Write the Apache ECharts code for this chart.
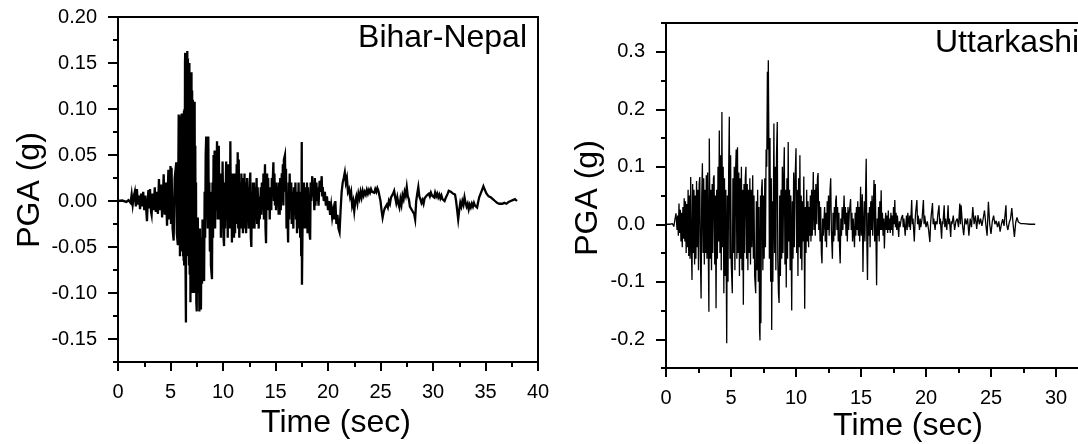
<!DOCTYPE html>
<html>
<head>
<meta charset="utf-8">
<script src="https://cdn.jsdelivr.net/npm/echarts@6/dist/echarts.min.js"></script>
<style>
html,body{margin:0;padding:0;background:#fff;}
#chart{width:1078px;height:444px;}
</style>
</head>
<body>
<div id="chart"></div>
<script>
// Panel titles
const panelTitles = ['Bihar-Nepal', 'Uttarkashi'];
const xTitle = 'Time (sec)';
const yTitle = 'PGA (g)';

// Tick labels
const leftYTicks = [-0.15, -0.10, -0.05, 0.00, 0.05, 0.10, 0.15, 0.20];
const rightYTicks = [-0.2, -0.1, 0.0, 0.1, 0.2, 0.3];

// Bihar-Nepal accelerogram [time (s), PGA (g)]
const biharNepal = [
[0,0],[0.4,0.0005],[0.8,-0.001],[1.0,0.001],[1.2,-0.002],
[1.3,0.007],[1.4,-0.004],[1.5,0.005],[1.6,0.010],[1.7,-0.006],[1.8,0.013],[1.9,-0.004],[2.0,0.006],[2.1,-0.009],[2.2,0.008],[2.3,-0.006],[2.4,0.010],[2.5,-0.010],[2.6,0.006],[2.7,-0.012],[2.76,-0.022],[2.85,0.004],[2.9,0.012],[3.0,-0.008],[3.05,0.013],[3.15,-0.012],[3.2,-0.015],[3.3,0.008],[3.4,-0.010],[3.5,0.015],[3.6,-0.012],[3.7,0.010],[3.8,-0.014],[3.9,0.024],[4.0,-0.010],[4.1,0.018],[4.2,-0.018],[4.3,0.012],[4.35,0.029],[4.45,-0.015],[4.55,0.020],[4.67,-0.027],[4.75,0.015],[4.8,0.034],[4.9,-0.020],[5.0,0.038],[5.05,-0.025],[5.1,0.036],[5.2,-0.030],[5.3,-0.043],[5.4,0.025],[5.55,0.042],[5.6,-0.035],[5.7,-0.048],
[5.75,0.040],[5.78,0.094],[5.8,-0.030],[5.83,0.090],[5.85,-0.040],[5.88,0.085],[5.9,-0.060],[5.93,0.092],[5.95,-0.045],[5.98,0.090],[6.0,-0.050],[6.03,0.094],[6.05,-0.055],[6.08,0.095],[6.1,-0.055],[6.13,0.092],[6.15,-0.050],[6.18,0.090],[6.2,-0.060],[6.23,0.095],[6.25,-0.065],[6.28,0.098],[6.3,-0.070],[6.33,0.100],[6.35,-0.060],[6.38,0.150],[6.4,0.161],[6.43,-0.070],[6.47,-0.132],[6.5,0.120],[6.53,-0.060],[6.56,0.140],[6.6,0.163],[6.63,-0.050],[6.66,0.155],[6.7,-0.060],[6.73,0.145],[6.76,-0.070],[6.8,0.150],[6.83,-0.080],[6.86,0.130],[6.9,-0.110],[6.93,0.120],[6.96,-0.090],[7.0,0.140],[7.03,-0.080],[7.06,0.120],[7.1,-0.100],[7.13,0.110],[7.16,-0.090],[7.2,0.105],[7.23,-0.100],[7.26,0.100],[7.3,0.108],[7.33,-0.100],[7.36,0.060],[7.4,-0.090],[7.43,0.020],[7.46,-0.110],[7.5,-0.120],[7.53,-0.030],[7.56,-0.100],[7.6,-0.018],
[7.65,-0.100],[7.7,-0.040],[7.75,-0.120],[7.8,-0.030],[7.85,-0.110],[7.9,-0.118],[7.95,-0.040],[8.0,-0.090],[8.05,-0.020],[8.1,-0.025],[8.15,-0.080],[8.2,-0.087],[8.25,0.010],[8.3,-0.040],[8.35,0.050],[8.4,0.070],[8.45,-0.020],[8.5,0.040],[8.55,-0.030],[8.6,0.070],[8.65,-0.020],[8.7,0.020],[8.75,-0.055],[8.8,0.010],[8.85,-0.070],[8.95,-0.085],[9.0,0.020],[9.05,-0.040],[9.1,0.050],[9.15,-0.020],[9.2,0.055],[9.25,-0.030],[9.3,0.040],[9.35,-0.010],[9.43,0.065],[9.5,-0.020],[9.55,0.050],[9.6,0.060],[9.65,-0.010],[9.7,-0.020],[9.75,0.030],[9.8,-0.040],[9.85,0.020],[9.9,-0.030],[9.96,0.043],[10.05,-0.040],[10.1,-0.049],[10.15,0.020],[10.2,-0.030],[10.3,0.043],[10.35,-0.020],[10.4,0.030],[10.45,-0.040],[10.5,0.040],[10.55,-0.010],[10.6,0.020],[10.65,-0.030],[10.7,0.065],[10.75,-0.020],[10.8,0.030],[10.85,-0.045],[10.9,0.020],[10.95,-0.030],[11.0,0.030],[11.05,-0.040],[11.1,0.025],[11.15,-0.035],[11.2,0.030],[11.25,-0.025],[11.3,0.040],[11.35,-0.020],[11.4,0.053],[11.45,-0.030],[11.5,0.045],[11.55,-0.040],[11.6,-0.042],[11.65,0.020],[11.7,-0.030],[11.75,0.030],[11.8,-0.020],[11.85,0.025],[11.9,-0.035],[11.95,0.020],[12.0,-0.030],[12.05,0.030],[12.1,-0.025],[12.15,0.020],[12.2,-0.035],[12.3,0.025],[12.35,-0.020],[12.4,0.015],[12.45,-0.030],[12.55,0.020],[12.6,0.031],[12.65,-0.040],[12.7,-0.050],[12.75,0.010],[12.8,-0.030],[12.85,0.020],[12.9,-0.020],[12.95,0.020],[13.0,-0.030],[13.1,0.015],[13.15,-0.010],[13.2,0.025],[13.25,-0.025],[13.3,0.015],[13.4,-0.030],[13.45,0.005],[13.5,-0.020],[13.6,0.015],[13.65,-0.015],[13.7,0.020],[13.8,-0.010],[13.85,0.030],[13.9,-0.020],[14.0,0.040],[14.05,-0.030],[14.1,-0.046],[14.15,0.020],[14.2,0.030],[14.25,-0.010],[14.3,0.025],[14.35,-0.010],[14.4,0.010],[14.45,-0.020],[14.5,0.015],[14.6,-0.010],[14.65,0.025],[14.7,0.010],[14.8,0.042],[14.85,0.000],[14.9,0.030],[14.95,-0.005],[15.0,0.020],[15.05,-0.010],[15.1,0.020],[15.2,-0.005],[15.25,0.010],[15.3,-0.015],[15.35,0.020],[15.4,-0.015],[15.45,0.025],[15.5,-0.010],[15.6,0.030],[15.65,0.000],[15.7,0.040],[15.75,-0.005],[15.8,0.045],[15.9,0.050],[15.95,0.010],[16.0,0.035],[16.05,-0.030],[16.1,0.010],[16.2,-0.045],[16.25,0.020],[16.3,-0.020],[16.35,0.030],[16.4,-0.010],[16.5,0.020],[16.55,-0.025],[16.6,0.010],[16.7,-0.030],[16.75,0.015],[16.8,-0.015],[16.9,0.020],[16.95,-0.020],[17.0,0.010],[17.05,-0.035],[17.1,0.010],[17.15,-0.010],[17.2,0.020],[17.25,-0.030],[17.3,0.005],[17.35,-0.040],[17.4,0.010],[17.45,-0.060],[17.5,0.064],[17.52,-0.091],[17.6,0.000],[17.65,-0.030],[17.7,0.020],[17.75,-0.020],[17.8,0.015],[17.85,-0.030],[17.9,0.010],[17.95,-0.025],[18.0,0.020],[18.05,-0.035],[18.1,0.015],[18.2,-0.030],[18.3,-0.042],[18.35,0.020],[18.4,0.000],[18.5,0.027],[18.55,0.005],[18.6,0.020],[18.7,-0.010],[18.75,0.025],[18.8,-0.005],[18.9,0.020],[18.95,0.000],[19.0,0.015],[19.1,-0.005],[19.2,0.022],[19.3,0.010],[19.4,0.027],[19.45,0.005],[19.5,0.015],[19.6,0.000],[19.7,0.010],[19.8,-0.005],[19.9,0.005],[20.0,-0.010],[20.1,0.000],[20.2,-0.015],[20.3,-0.005],[20.4,-0.018],[20.5,-0.010],[20.6,-0.020],[20.7,0.000],[20.8,-0.025],[20.9,-0.015],[21.0,-0.030],[21.1,-0.034],[21.2,-0.010],[21.3,0.010],[21.4,0.020],[21.5,0.025],[21.6,0.031],[21.7,0.020],[21.8,0.025],[21.9,0.010],[22.0,0.013],[22.1,0.005],[22.2,0.010],[22.3,-0.005],[22.4,0.000],[22.5,-0.011],[22.6,0.000],[22.7,0.005],[22.8,-0.002],[22.9,0.008],[23.0,0.003],[23.1,0.010],[23.2,0.004],[23.3,0.011],[23.4,0.006],[23.5,0.010],[23.6,0.007],[23.7,0.012],[23.8,0.008],[23.9,0.012],[24.0,0.009],[24.1,0.013],[24.2,0.010],[24.3,0.012],[24.4,0.009],[24.5,0.013],[24.6,0.010],[24.7,0.014],[24.8,0.011],[24.9,0.013],[25.0,0.000],[25.1,-0.010],[25.2,-0.018],[25.3,-0.012],[25.4,-0.008],[25.5,-0.010],[25.6,-0.004],[25.7,-0.007],[25.8,0.000],[25.9,-0.003],[26.0,0.004],[26.1,0.002],[26.2,0.008],[26.3,0.011],[26.4,0.004],[26.5,-0.002],[26.6,0.004],[26.7,-0.003],[26.8,-0.007],[26.9,0.002],[27.0,-0.004],[27.1,0.006],[27.2,0.002],[27.3,0.010],[27.4,0.006],[27.5,0.015],[27.6,0.005],[27.7,0.002],[27.8,-0.006],[27.9,-0.004],[28.0,-0.010],[28.1,-0.008],[28.2,-0.014],[28.3,-0.020],[28.4,0.000],[28.5,0.008],[28.6,0.015],[28.7,0.005],[28.8,0.002],[28.9,-0.002],[29.0,0.001],[29.1,-0.003],[29.2,0.003],[29.3,0.001],[29.4,0.006],[29.5,0.004],[29.6,0.008],[29.7,0.005],[29.8,0.009],[29.9,0.006],[30.0,0.008],[30.1,0.004],[30.2,0.009],[30.3,0.005],[30.4,0.008],[30.5,0.004],[30.6,0.007],[30.7,0.003],[30.8,0.006],[30.9,0.002],[31.0,0.004],[31.1,0.000],[31.2,0.003],[31.3,0.005],[31.4,0.008],[31.5,0.011],[31.6,0.013],[31.7,0.010],[31.8,0.012],[31.9,0.008],[32.0,0.009],[32.1,0.007],[32.2,0.000],[32.3,-0.010],[32.4,-0.020],[32.5,-0.010],[32.6,-0.002],[32.7,-0.006],[32.8,0.000],[32.9,-0.004],[33.0,0.004],[33.1,-0.002],[33.2,-0.006],[33.3,-0.003],[33.4,-0.009],[33.5,-0.004],[33.6,-0.007],[33.7,-0.003],[33.8,-0.006],[33.9,-0.002],[34.0,-0.005],[34.1,-0.003],[34.2,-0.007],[34.3,-0.001],[34.4,0.004],[34.5,0.006],[34.6,0.010],[34.7,0.013],[34.8,0.016],[34.9,0.013],[35.0,0.011],[35.1,0.008],[35.2,0.007],[35.3,0.005],[35.4,0.006],[35.5,0.004],[35.6,0.004],[35.7,0.002],[35.8,0.002],[35.9,0.000],[36.0,0.000],[36.1,-0.002],[36.2,-0.002],[36.3,-0.003],[36.4,-0.003],[36.6,-0.003],[36.8,-0.002],[37.0,-0.003],[37.2,-0.001],[37.4,0.000],[37.6,0.001],[37.8,0.002],[38.0,0.000]
];

// Uttarkashi accelerogram [time (s), PGA (g)]
const uttarkashi = [
[0,0],[0.3,0],[0.5,0.001],[0.6,-0.004],[0.7,0.010],[0.77,0.019],[0.85,-0.010],[0.9,0.015],[0.95,-0.020],[1.0,0.036],[1.05,-0.015],[1.1,0.025],[1.15,-0.030],[1.2,0.020],[1.25,-0.040],[1.3,0.030],[1.35,-0.025],[1.4,0.045],[1.45,-0.030],[1.5,0.040],[1.55,-0.050],[1.6,0.035],[1.65,-0.040],[1.7,0.060],[1.75,-0.055],[1.8,0.050],[1.85,-0.060],[1.9,0.082],[1.95,-0.040],[2.0,-0.097],[2.05,0.070],[2.1,-0.050],[2.15,0.060],[2.2,-0.070],[2.25,0.050],[2.3,-0.060],[2.35,0.075],[2.4,-0.040],[2.45,0.060],[2.5,-0.080],[2.55,0.070],[2.6,0.082],[2.65,-0.060],[2.7,-0.129],[2.75,0.050],[2.8,0.106],[2.85,-0.050],[2.9,0.080],[2.95,-0.070],[3.0,0.060],[3.05,-0.050],[3.1,0.085],[3.15,-0.060],[3.2,0.090],[3.25,-0.040],[3.3,-0.152],[3.33,0.149],[3.4,-0.060],[3.45,0.060],[3.5,-0.080],[3.55,0.070],[3.6,-0.050],[3.65,0.080],[3.7,0.085],[3.75,-0.070],[3.8,0.050],[3.85,-0.146],[3.9,0.060],[3.95,-0.060],[4.0,0.100],[4.05,-0.030],[4.1,0.163],[4.15,-0.050],[4.2,0.120],[4.25,-0.080],[4.3,0.195],[4.35,-0.040],[4.4,0.100],[4.45,-0.120],[4.5,0.080],[4.55,-0.090],[4.6,0.060],[4.67,-0.207],[4.72,0.050],[4.77,-0.100],[4.82,0.090],[4.87,0.187],[4.92,-0.060],[4.97,0.120],[5.02,-0.070],[5.1,-0.120],[5.15,0.080],[5.2,-0.050],[5.25,0.100],[5.3,-0.080],[5.35,0.090],[5.4,0.130],[5.45,-0.060],[5.5,0.134],[5.55,-0.050],[5.6,0.090],[5.65,-0.090],[5.7,0.080],[5.75,-0.060],[5.8,0.100],[5.85,-0.080],[5.9,0.060],[5.95,-0.140],[6.0,0.070],[6.05,-0.050],[6.1,0.080],[6.15,0.100],[6.2,-0.060],[6.25,0.070],[6.3,-0.080],[6.35,0.060],[6.4,-0.050],[6.45,0.080],[6.5,-0.070],[6.55,0.060],[6.6,-0.040],[6.67,0.085],[6.72,-0.060],[6.77,0.050],[6.82,-0.090],[6.9,-0.120],[6.95,0.040],[7.0,-0.080],[7.05,0.060],[7.1,-0.100],[7.15,0.030],[7.2,-0.185],[7.23,-0.202],[7.27,0.050],[7.3,-0.172],[7.35,0.060],[7.4,0.078],[7.45,-0.080],[7.5,0.050],[7.55,-0.060],[7.6,0.080],[7.65,-0.040],[7.7,0.130],[7.75,0.100],[7.8,0.265],[7.83,0.130],[7.87,0.285],[7.92,0.120],[7.95,-0.060],[8.0,0.150],[8.05,-0.100],[8.1,0.080],[8.13,-0.184],[8.18,0.040],[8.22,-0.100],[8.3,0.175],[8.35,-0.050],[8.4,0.100],[8.45,-0.080],[8.5,0.120],[8.56,0.178],[8.6,-0.060],[8.65,-0.120],[8.7,-0.137],[8.75,0.050],[8.8,-0.090],[8.85,0.060],[8.9,-0.060],[8.95,0.100],[9.0,-0.050],[9.05,0.080],[9.1,0.134],[9.15,-0.070],[9.2,0.060],[9.25,-0.110],[9.3,0.080],[9.35,-0.060],[9.4,0.143],[9.45,-0.030],[9.5,0.060],[9.55,-0.080],[9.6,0.050],[9.67,-0.150],[9.72,0.040],[9.77,-0.060],[9.82,0.090],[9.87,-0.040],[9.92,0.070],[10.0,0.132],[10.05,-0.050],[10.1,0.060],[10.15,-0.090],[10.2,0.080],[10.25,-0.040],[10.3,0.120],[10.35,-0.060],[10.4,0.050],[10.45,-0.080],[10.5,0.040],[10.55,-0.030],[10.6,0.083],[10.67,-0.147],[10.72,0.030],[10.77,-0.050],[10.82,0.060],[10.87,-0.030],[10.92,0.040],[10.97,-0.040],[11.0,0.030],[11.05,-0.020],[11.1,0.050],[11.15,-0.030],[11.2,0.060],[11.25,-0.020],[11.33,0.091],[11.38,-0.010],[11.43,0.060],[11.48,-0.020],[11.53,0.070],[11.6,0.000],[11.65,0.080],[11.7,0.089],[11.75,-0.010],[11.8,0.040],[11.85,-0.030],[11.9,0.030],[11.95,-0.050],[12.0,-0.068],[12.05,0.010],[12.1,-0.020],[12.2,0.030],[12.25,-0.030],[12.3,0.020],[12.35,-0.040],[12.4,0.040],[12.45,-0.010],[12.5,0.050],[12.55,-0.020],[12.62,0.060],[12.67,0.080],[12.72,-0.010],[12.8,-0.060],[12.85,0.020],[12.9,-0.030],[12.95,0.030],[13.0,-0.020],[13.05,0.040],[13.1,0.050],[13.15,-0.010],[13.2,0.030],[13.25,-0.030],[13.3,0.020],[13.35,-0.040],[13.4,-0.068],[13.45,0.010],[13.5,-0.020],[13.55,0.030],[13.6,-0.010],[13.7,0.050],[13.75,0.000],[13.8,0.030],[13.85,-0.020],[13.9,0.020],[13.95,-0.030],[14.0,0.030],[14.05,-0.010],[14.1,0.020],[14.2,0.044],[14.25,-0.010],[14.3,0.020],[14.35,-0.030],[14.4,0.010],[14.5,-0.040],[14.55,0.020],[14.6,-0.020],[14.65,0.030],[14.7,-0.010],[14.75,0.040],[14.8,-0.020],[14.85,0.030],[14.9,-0.030],[14.97,0.065],[15.02,-0.020],[15.1,0.052],[15.15,-0.083],[15.2,0.000],[15.25,0.040],[15.3,-0.030],[15.35,0.050],[15.4,0.114],[15.45,-0.030],[15.5,-0.097],[15.55,0.020],[15.6,-0.020],[15.65,0.030],[15.7,-0.040],[15.75,0.040],[15.8,-0.010],[15.85,0.050],[15.9,-0.020],[16.0,0.077],[16.05,-0.030],[16.1,0.070],[16.15,-0.020],[16.2,-0.106],[16.25,0.010],[16.3,-0.020],[16.35,0.030],[16.4,-0.030],[16.45,0.040],[16.5,-0.010],[16.55,0.059],[16.6,-0.010],[16.65,0.020],[16.7,-0.020],[16.75,0.010],[16.8,-0.042],[16.85,0.000],[16.9,0.020],[16.95,-0.010],[17.0,0.015],[17.05,-0.015],[17.1,0.024],[17.15,-0.010],[17.2,0.010],[17.25,-0.015],[17.3,0.020],[17.35,-0.010],[17.4,0.015],[17.45,-0.020],[17.5,0.030],[17.55,0.000],[17.6,0.042],[17.65,-0.005],[17.7,0.020],[17.75,-0.010],[17.8,0.015],[17.9,-0.022],[17.95,0.005],[18.0,-0.005],[18.1,0.010],[18.2,0.016],[18.25,-0.005],[18.3,0.010],[18.4,-0.020],[18.45,0.000],[18.5,0.015],[18.55,-0.010],[18.6,0.020],[18.7,-0.005],[18.75,0.015],[18.8,-0.010],[18.9,0.042],[18.95,0.000],[19.0,0.010],[19.1,-0.030],[19.15,0.000],[19.2,0.020],[19.3,0.042],[19.35,0.000],[19.4,0.015],[19.5,-0.010],[19.55,0.010],[19.6,-0.005],[19.7,0.010],[19.8,0.042],[19.85,0.000],[19.9,0.015],[20.0,-0.005],[20.1,0.005],[20.2,-0.010],[20.3,-0.031],[20.35,0.000],[20.4,0.015],[20.5,0.037],[20.55,0.000],[20.6,0.010],[20.7,-0.010],[20.75,0.005],[20.85,0.000],[20.9,0.015],[21.0,0.033],[21.05,0.000],[21.1,0.010],[21.2,-0.025],[21.25,0.005],[21.3,0.000],[21.4,0.033],[21.45,-0.005],[21.5,0.010],[21.6,-0.010],[21.7,0.033],[21.75,0.000],[21.8,0.010],[21.9,-0.022],[21.95,0.005],[22.0,0.000],[22.1,0.015],[22.2,-0.010],[22.3,0.005],[22.4,0.010],[22.5,-0.005],[22.6,0.036],[22.65,0.000],[22.7,0.033],[22.8,0.000],[22.9,-0.019],[23.0,0.010],[23.1,0.000],[23.2,0.010],[23.3,-0.020],[23.4,0.010],[23.5,-0.005],[23.6,0.030],[23.7,0.000],[23.8,0.015],[23.9,-0.008],[24.0,0.016],[24.1,0.000],[24.2,0.010],[24.3,-0.003],[24.4,0.010],[24.5,0.024],[24.6,0.000],[24.7,-0.020],[24.8,0.039],[24.9,0.000],[25.0,-0.017],[25.1,0.005],[25.2,0.015],[25.3,0.000],[25.4,0.006],[25.5,-0.005],[25.6,0.005],[25.7,-0.013],[25.8,0.000],[25.9,0.009],[26.0,-0.003],[26.15,0.033],[26.2,0.000],[26.3,-0.010],[26.4,0.003],[26.5,0.009],[26.6,0.028],[26.7,0.000],[26.8,-0.022],[26.9,0.003],[27.0,0.012],[27.1,0.004],[27.2,0.006],[27.3,0.001],[27.4,0.000],[27.5,0.001],[28.0,0.000],[28.4,0.000]
];

const FONT = '"Liberation Sans", Arial, sans-serif';
const TXT = '#000';

function xAxisCfg(grid, max) {
  return {
    gridIndex: grid, type: 'value', min: 0, max: max, interval: 5,
    axisLine: {show: true, onZero: false, lineStyle: {color: '#000', width: 2}},
    axisTick: {show: true, inside: false, length: 9, lineStyle: {color: '#000', width: 2}},
    minorTick: {show: true, splitNumber: 2, length: 5, lineStyle: {color: '#000', width: 2}},
    splitLine: {show: false}, minorSplitLine: {show: false},
    axisLabel: {fontSize: 20, fontFamily: FONT, color: TXT, margin: 20}
  };
}
function yMinorCfg(grid, min, max, step) {
  return {
    gridIndex: grid, type: 'value', min: min, max: max, interval: step, position: 'left',
    axisLine: {show: true, onZero: false, lineStyle: {color: '#000', width: 2}},
    axisTick: {show: true, inside: false, length: 5, lineStyle: {color: '#000', width: 2}},
    axisLabel: {show: false}, splitLine: {show: false}
  };
}
function yMajorCfg(grid, min, max, ticks, digits) {
  return {
    gridIndex: grid, type: 'value', min: min, max: max, position: 'left',
    axisLine: {show: false, onZero: false},
    axisTick: {show: true, inside: false, length: 10, customValues: ticks, lineStyle: {color: '#000', width: 2}},
    axisLabel: {show: true, customValues: ticks, fontSize: 20, fontFamily: FONT, color: TXT, margin: 21,
      formatter: v => Number(v).toFixed(digits)},
    splitLine: {show: false}
  };
}
function txt(x, y, s, size, align, rot) {
  return {type: 'text', x: x, y: y, rotation: rot || 0,
    style: {text: s, fontSize: size, fontFamily: FONT, fill: '#000', align: align, verticalAlign: 'middle'}};
}

const chart = echarts.init(document.getElementById('chart'), null, {renderer: 'canvas'});
chart.setOption({
  animation: false,
  backgroundColor: '#fff',
  grid: [
    {left: 118, top: 17, width: 420, height: 345, show: true, borderColor: '#000', borderWidth: 2,
      backgroundColor: 'transparent', containLabel: false, outerBoundsMode: 'none'},
    {left: 666, top: 23, width: 455, height: 345, show: true, borderColor: '#000', borderWidth: 2,
      backgroundColor: 'transparent', containLabel: false, outerBoundsMode: 'none'}
  ],
  xAxis: [xAxisCfg(0, 40), xAxisCfg(1, 35)],
  yAxis: [
    yMinorCfg(0, -0.175, 0.2, 0.025),
    yMajorCfg(0, -0.175, 0.2, leftYTicks, 2),
    yMinorCfg(1, -0.25, 0.35, 0.05),
    yMajorCfg(1, -0.25, 0.35, rightYTicks, 1)
  ],
  series: [
    {type: 'line', xAxisIndex: 0, yAxisIndex: 0, data: biharNepal, showSymbol: false, symbol: 'none',
      lineStyle: {color: '#000', width: 2.3, join: 'miter'}, sampling: null},
    {type: 'line', xAxisIndex: 1, yAxisIndex: 2, data: uttarkashi, showSymbol: false, symbol: 'none',
      lineStyle: {color: '#000', width: 1.3}, sampling: null}
  ],
  graphic: [
    txt(527, 38, panelTitles[0], 32, 'right'),
    txt(935, 43, panelTitles[1], 32, 'left'),
    txt(30, 190, yTitle, 32, 'center', Math.PI / 2),
    txt(588, 198, yTitle, 32, 'center', Math.PI / 2),
    txt(336, 423, xTitle, 32, 'center'),
    txt(908, 426, xTitle, 32, 'center')
  ]
});
</script>
</body>
</html>
